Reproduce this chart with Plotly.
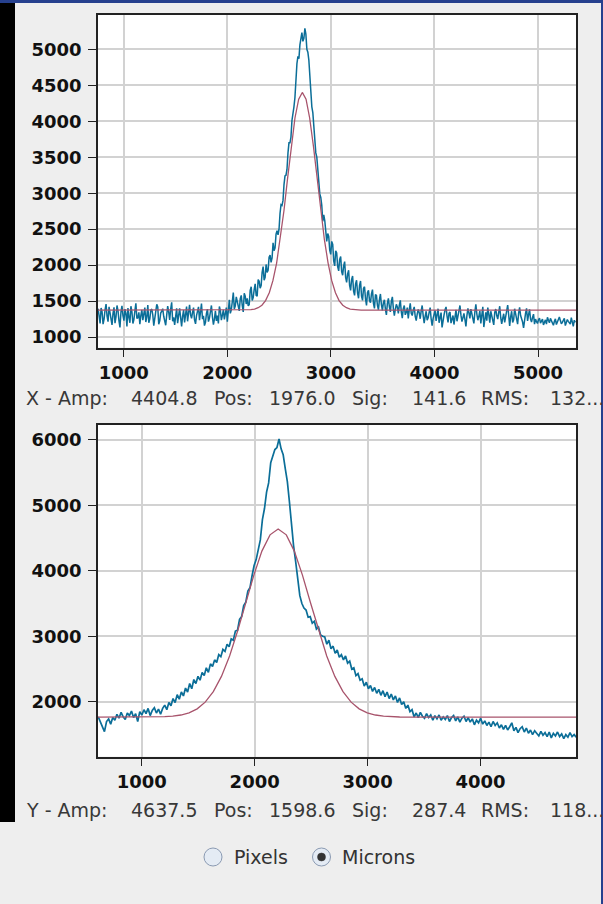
import plotly.graph_objects as go

# ---------------- data ----------------
# Top (X) profile: sample positions start/step, measured intensities
x_top_start = 752
x_top_step = 9.6
x_top_counts = [
    1395, 1240, 1190, 1405, 1350, 1180, 1250, 1380, 1460, 1290, 1215, 1420, 1320, 1255, 1170, 1330, 1415, 1195, 1280, 1440,
    1370, 1225, 1135, 1350, 1435, 1300, 1230, 1390, 1330, 1150, 1405, 1275, 1200, 1430, 1355, 1190, 1245, 1365, 1470, 1260,
    1270, 1345, 1180, 1300, 1380, 1235, 1325, 1410, 1210, 1285, 1445, 1200, 1255, 1375, 1390, 1310, 1160, 1265, 1340, 1455,
    1420, 1180, 1225, 1335, 1360, 1395, 1290, 1210, 1165, 1305, 1430, 1350, 1240, 1385, 1485, 1220, 1275, 1170, 1315, 1400,
    1195, 1330, 1400, 1275, 1150, 1290, 1375, 1205, 1335, 1425, 1220, 1380, 1450, 1310, 1260, 1345, 1410, 1240, 1185, 1300,
    1345, 1420, 1235, 1385, 1465, 1250, 1295, 1160, 1205, 1330, 1390, 1215, 1265, 1355, 1440, 1280, 1175, 1250, 1365, 1225,
    1300, 1190, 1425, 1370, 1235, 1305, 1380, 1245, 1320, 1410, 1215, 1345, 1520, 1330, 1380, 1495, 1620, 1390, 1435, 1560,
    1480, 1410, 1365, 1535, 1580, 1440, 1350, 1610, 1570, 1460, 1540, 1435, 1450, 1650, 1700, 1510, 1550, 1660, 1740, 1580,
    1570, 1800, 1775, 1680, 1715, 1900, 1980, 1790, 1830, 2010, 1900, 1930, 2110, 2140, 2040, 2100, 2310, 2200, 2240, 2430,
    2480, 2420, 2500, 2720, 2840, 2830, 2900, 3120, 3240, 3250, 3330, 3560, 3700, 3700, 3780, 4010, 4160, 4200, 4330, 4620,
    4800, 4900, 4870, 5060, 5180, 5230, 5110, 5150, 5290, 5210, 5000, 4960, 4850, 4640, 4360, 4200, 4120, 3930, 3680, 3560,
    3500, 3340, 3090, 2990, 2940, 2830, 2610, 2700, 2620, 2430, 2330, 2440, 2400, 2210, 2150, 2330, 2290, 2060, 1990, 2200,
    2170, 1980, 1920, 2080, 2120, 1910, 1860, 1990, 2050, 1830, 1760, 1880, 1930, 1720, 1650, 1800, 1850, 1640, 1580, 1740,
    1790, 1610, 1540, 1720, 1780, 1570, 1510, 1680, 1700, 1530, 1440, 1620, 1650, 1510, 1480, 1600, 1660, 1470, 1400, 1590,
    1580, 1440, 1380, 1520, 1600, 1450, 1370, 1480, 1520, 1390, 1310, 1470, 1540, 1420, 1350, 1500, 1560, 1400, 1300, 1385,
    1455, 1420, 1330, 1440, 1510, 1350, 1265, 1395, 1440, 1310, 1345, 1410, 1260, 1380, 1470, 1330, 1300, 1375, 1420, 1290,
    1230, 1320, 1385, 1340, 1255, 1365, 1440, 1300, 1195, 1290, 1360, 1235, 1270, 1345, 1410, 1255, 1160, 1260, 1340, 1370,
    1225, 1320, 1395, 1200, 1270, 1340, 1135, 1265, 1310, 1380, 1420, 1290, 1205, 1330, 1350, 1195, 1245, 1300, 1175, 1255,
    1380, 1220, 1290, 1360, 1440, 1305, 1215, 1270, 1330, 1245, 1150, 1300, 1400, 1335, 1260, 1390, 1315, 1215, 1190, 1350,
    1455, 1320, 1235, 1290, 1365, 1190, 1280, 1420, 1140, 1250, 1345, 1230, 1410, 1315, 1200, 1360, 1300, 1240, 1170, 1345,
    1390, 1300, 1250, 1345, 1430, 1270, 1185, 1260, 1325, 1205, 1275, 1380, 1445, 1310, 1155, 1280, 1360, 1205, 1240, 1395,
    1305, 1250, 1180, 1330, 1415, 1300, 1265, 1210, 1130, 1260, 1335, 1400, 1225, 1310, 1385, 1250, 1210, 1275, 1320, 1180,
    1250, 1215, 1190, 1240, 1265, 1195, 1215, 1250, 1170, 1205, 1240, 1180, 1275, 1235, 1200, 1260, 1230, 1190, 1165, 1220,
    1255, 1175, 1210, 1245, 1280, 1230, 1185, 1205, 1225, 1260, 1160, 1195, 1245, 1220, 1200, 1180, 1270, 1215, 1150, 1235,
    1205,
]
# Top Gaussian fit
x_top_fit = [751, 2156, 2192, 2227, 2263, 2298, 2334, 2369, 2405, 2440, 2476, 2511, 2547, 2582, 2618, 2653, 2689,
             2724, 2760, 2795, 2831, 2866, 2902, 2937, 2973, 3008, 3044, 3079, 3115, 3150, 3186, 3221, 3257, 3292, 5367]
y_top_fit = [1375, 1375, 1378, 1382, 1390, 1409, 1444, 1508, 1616, 1784, 2029, 2357, 2760, 3210, 3658, 4045, 4307,
             4400, 4307, 4045, 3658, 3210, 2760, 2357, 2029, 1784, 1616, 1508, 1444, 1409, 1390, 1382, 1378, 1375, 1375]

# Bottom (Y) profile
x_bot_start = 615
x_bot_step = 18.4
x_bot_counts = [
    1770, 1690, 1640, 1545, 1700, 1740, 1660, 1760, 1720, 1810, 1750, 1840, 1770, 1730, 1830, 1790, 1860, 1760, 1820, 1700,
    1850, 1800, 1880, 1820, 1900, 1790, 1870, 1910, 1830, 1890, 1810, 1900, 1950, 1880, 1990, 1940, 2050, 1990, 2110, 2040,
    2150, 2090, 2210, 2150, 2280, 2200, 2340, 2280, 2390, 2330, 2450, 2400, 2520, 2450, 2580, 2540, 2640, 2600, 2720, 2690,
    2800, 2770, 2880, 2840, 2960, 2940, 3080, 3090, 3260, 3300, 3470, 3520, 3690, 3740, 3920, 4080, 4170, 4300, 4470, 4780,
    4950, 5200, 5340, 5650, 5760, 5850, 5880, 6010, 5860, 5770, 5560, 5360, 5050, 4700, 4380, 4140, 3840, 3620, 3500, 3430,
    3400, 3290, 3300, 3200, 3230, 3110, 3140, 3020, 3000, 2990, 2880, 2940, 2810, 2850, 2740, 2790, 2680, 2720, 2640, 2700,
    2590, 2620, 2500, 2520, 2400, 2430, 2330, 2350, 2240, 2300, 2200, 2250, 2160, 2220, 2130, 2190, 2100, 2170, 2080, 2150,
    2050, 2120, 2030, 2090, 1990, 2060, 1960, 2000, 1900, 1950, 1850, 1880, 1770, 1830, 1760, 1840, 1780, 1750, 1820, 1760,
    1800, 1720, 1790, 1740, 1800, 1720, 1770, 1730, 1790, 1700, 1760, 1790, 1710, 1770, 1690, 1750, 1780, 1700, 1760, 1690,
    1740, 1650, 1720, 1680, 1750, 1660, 1710, 1640, 1690, 1620, 1700, 1640, 1680, 1600, 1650, 1580, 1640, 1570, 1620, 1680,
    1560, 1610, 1530, 1590, 1620, 1540, 1600, 1520, 1570, 1500, 1560, 1510, 1480, 1550, 1490, 1530, 1470, 1540, 1450, 1520,
    1480, 1540, 1470, 1510, 1440, 1500, 1460, 1530, 1470, 1500, 1460,
]
x_bot_fit = [613, 1060, 1132, 1204, 1275, 1347, 1419, 1491, 1562, 1634, 1706, 1778, 1849, 1921, 1993, 2064, 2136,
             2208, 2280, 2351, 2423, 2495, 2567, 2638, 2710, 2782, 2854, 2925, 2997, 3069, 3141, 3212, 3284, 3356, 4845]
y_bot_fit = [1767, 1767, 1769, 1773, 1782, 1799, 1832, 1893, 1995, 2155, 2388, 2699, 3081, 3508, 3933, 4300, 4548,
             4637, 4548, 4300, 3933, 3508, 3081, 2699, 2388, 2155, 1995, 1893, 1832, 1799, 1782, 1773, 1769, 1767, 1767]

top_xticks = [1000, 2000, 3000, 4000, 5000]
top_yticks = [1000, 1500, 2000, 2500, 3000, 3500, 4000, 4500, 5000]
bot_xticks = [1000, 2000, 3000, 4000]
bot_yticks = [2000, 3000, 4000, 5000, 6000]

top_stats = ["X - Amp:", "4404.8", "Pos:", "1976.0", "Sig:", "141.6", "RMS:", "132..."]
bot_stats = ["Y - Amp:", "4637.5", "Pos:", "1598.6", "Sig:", "287.4", "RMS:", "118..."]
radio_labels = ["Pixels", "Microns"]
radio_selected = [False, True]

# ---------------- figure ----------------
W, H = 603, 904
BLUE = "#0b6e98"
RED = "#a8546c"

def px(x):
    return x / W

def py(y):
    return 1 - y / H

x_top = [x_top_start + i * x_top_step for i in range(len(x_top_counts))]
x_bot = [x_bot_start + i * x_bot_step for i in range(len(x_bot_counts))]

fig = go.Figure()
fig.add_trace(go.Scatter(x=x_top, y=x_top_counts, mode="lines", line=dict(color=BLUE, width=1.5),
                         xaxis="x", yaxis="y", showlegend=False, hoverinfo="skip"))
fig.add_trace(go.Scatter(x=x_top_fit, y=y_top_fit, mode="lines", line=dict(color=RED, width=1.3),
                         xaxis="x", yaxis="y", showlegend=False, hoverinfo="skip"))
fig.add_trace(go.Scatter(x=x_bot, y=x_bot_counts, mode="lines", line=dict(color=BLUE, width=1.7),
                         xaxis="x2", yaxis="y2", showlegend=False, hoverinfo="skip"))
fig.add_trace(go.Scatter(x=x_bot_fit, y=y_bot_fit, mode="lines", line=dict(color=RED, width=1.3),
                         xaxis="x2", yaxis="y2", showlegend=False, hoverinfo="skip"))

tickfont = dict(family="DejaVu Sans", size=18, color="#111111", weight="bold")
common = dict(showgrid=True, gridcolor="#d2d2d2", gridwidth=1.5, zeroline=False,
              showline=True, linecolor="#222222", linewidth=1.5, mirror=True,
              ticks="outside", ticklen=8, tickwidth=1.3, tickcolor="#222222",
              tickfont=tickfont, fixedrange=True)

xdom = [px(98), px(576)]
fig.update_layout(
    width=W, height=H,
    margin=dict(l=0, r=0, t=0, b=0),
    paper_bgcolor="#eeeeee", plot_bgcolor="#ffffff",
    xaxis=dict(domain=xdom, range=[751, 5367], tickvals=top_xticks, anchor="y", **common),
    yaxis=dict(domain=[py(347.5), py(15)], range=[856, 5476], tickvals=top_yticks, anchor="x",
               ticklabelstandoff=3, **common),
    xaxis2=dict(domain=xdom, range=[613, 4845], tickvals=bot_xticks, anchor="y2", **common),
    yaxis2=dict(domain=[py(756.5), py(425)], range=[1166, 6224], tickvals=bot_yticks, anchor="x2",
                ticklabelstandoff=3, **common),
)

# stat lines as text segments
seg_x = [24, 129, 212, 267, 350, 410, 479, 548]
stat_font = dict(family="DejaVu Sans", size=19, color="#383838")
for labels, yc in ((top_stats, 398), (bot_stats, 810)):
    for t, xs in zip(labels, seg_x):
        fig.add_annotation(x=px(xs), y=py(yc), xref="paper", yref="paper", text=t, showarrow=False,
                           xanchor="left", yanchor="middle", font=stat_font)

# radio buttons
radio_cx = [213, 321.5]
radio_tx = [232, 340]
r = 9
for lab, sel, cx, tx in zip(radio_labels, radio_selected, radio_cx, radio_tx):
    fig.add_shape(type="circle", xref="paper", yref="paper",
                  x0=px(cx - r), x1=px(cx + r), y0=py(857 + r), y1=py(857 - r),
                  fillcolor="#e4ebf4", line=dict(color="#8a9ab2", width=1))
    if sel:
        fig.add_shape(type="circle", xref="paper", yref="paper",
                      x0=px(cx - 4), x1=px(cx + 4), y0=py(857 + 4), y1=py(857 - 4),
                      fillcolor="#333333", line=dict(color="#333333", width=0.5))
    fig.add_annotation(x=px(tx), y=py(857), xref="paper", yref="paper", text=lab, showarrow=False,
                       xanchor="left", yanchor="middle", font=dict(family="DejaVu Sans", size=19, color="#333333"))

# window frame decoration
fig.add_shape(type="rect", xref="paper", yref="paper", x0=0, x1=1, y0=py(3), y1=1,
              fillcolor="#26408e", line=dict(width=0))
fig.add_shape(type="rect", xref="paper", yref="paper", x0=px(601), x1=1, y0=0, y1=1,
              fillcolor="#26408e", line=dict(width=0))
fig.add_shape(type="rect", xref="paper", yref="paper", x0=0, x1=px(15), y0=py(822), y1=py(3),
              fillcolor="#000000", line=dict(width=0))

fig.write_html("out.html")
